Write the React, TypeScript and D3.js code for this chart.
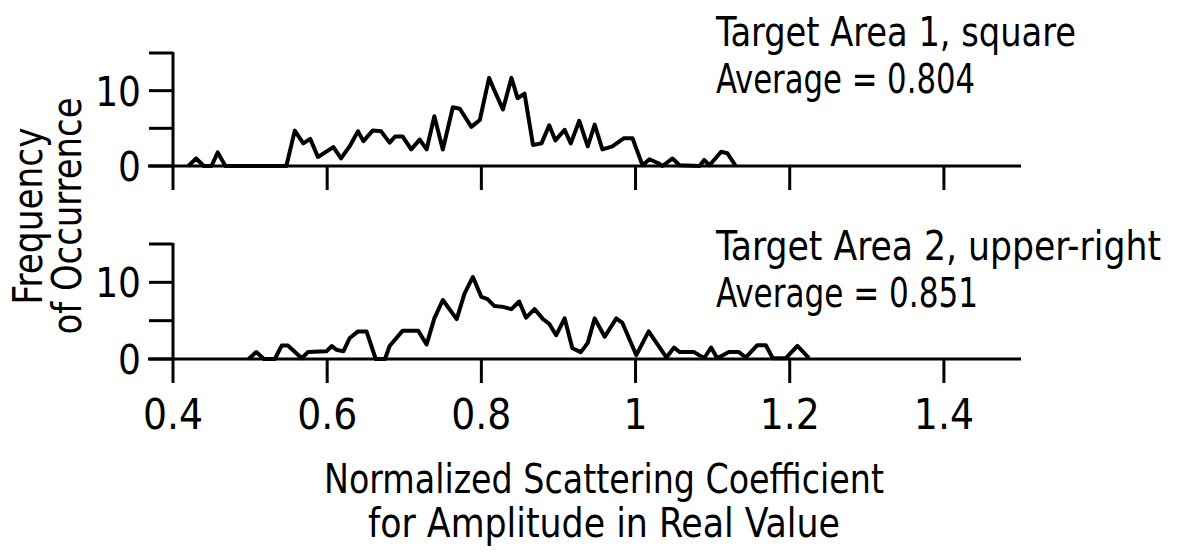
import * as d3 from 'd3'
import React from 'react'

// values
const topX = [0.42, 0.43, 0.44, 0.45, 0.458, 0.468, 0.547, 0.558, 0.569, 0.578, 0.588, 0.608, 0.618, 0.629, 0.64, 0.647, 0.659, 0.67, 0.681, 0.688, 0.698, 0.709, 0.72, 0.729, 0.739, 0.75, 0.763, 0.772, 0.787, 0.798, 0.81, 0.817, 0.828, 0.839, 0.847, 0.856, 0.867, 0.878, 0.888, 0.896, 0.908, 0.916, 0.927, 0.938, 0.947, 0.957, 0.97, 0.985, 0.996, 1.009, 1.018, 1.029, 1.035, 1.048, 1.057, 1.083, 1.089, 1.096, 1.111, 1.119, 1.13]
const topY = [0, 1.0, 0, 0, 1.8, 0, 0, 4.7, 3.0, 3.6, 1.2, 2.5, 1.0, 2.6, 4.6, 3.3, 4.7, 4.6, 3.1, 3.9, 3.9, 2.2, 3.5, 2.2, 6.6, 2.2, 7.8, 7.6, 5.2, 6.1, 11.7, 10.0, 7.5, 11.7, 9.0, 9.6, 2.8, 3.0, 5.4, 3.4, 4.8, 3.0, 6.0, 2.6, 5.5, 2.2, 2.6, 3.7, 3.7, 0.1, 0.9, 0.4, 0, 1.0, 0.1, 0, 0.8, 0.1, 1.9, 1.7, 0]

const bottomX = [0.498, 0.508, 0.518, 0.532, 0.541, 0.549, 0.567, 0.575, 0.599, 0.606, 0.612, 0.621, 0.629, 0.64, 0.651, 0.663, 0.675, 0.681, 0.698, 0.718, 0.729, 0.739, 0.75, 0.768, 0.778, 0.789, 0.8, 0.808, 0.817, 0.828, 0.839, 0.849, 0.858, 0.869, 0.88, 0.888, 0.897, 0.908, 0.918, 0.929, 0.938, 0.947, 0.96, 0.975, 0.983, 1.001, 1.017, 1.04, 1.05, 1.057, 1.076, 1.089, 1.098, 1.106, 1.121, 1.134, 1.143, 1.158, 1.169, 1.178, 1.195, 1.21, 1.225]
const bottomY = [0, 0.9, 0, 0, 1.75, 1.75, 0.1, 0.9, 1.0, 1.7, 1.2, 1.0, 2.7, 3.6, 3.6, 0, 0, 1.7, 3.7, 3.7, 1.9, 5.3, 7.7, 5.2, 8.5, 10.7, 8.1, 7.8, 6.9, 6.8, 6.5, 7.5, 5.4, 6.5, 5.2, 4.6, 3.1, 5.3, 1.4, 0.9, 2.1, 5.3, 2.9, 5.3, 4.7, 0.5, 3.6, 0.2, 1.5, 0.9, 0.9, 0.1, 1.5, 0.1, 0.9, 0.9, 0.2, 1.8, 1.8, 0.1, 0.1, 1.7, 0.1]

const xTicks = [0.4, 0.6, 0.8, 1.0, 1.2, 1.4]
const xTickLabels = ['0.4', '0.6', '0.8', '1', '1.2', '1.4']
const yTicks = [0, 5, 10, 15]
const yTickLabels = ['0', '', '10', '']

const annotations = [
  ['Target Area 1, square', 'Average = 0.804'],
  ['Target Area 2, upper-right', 'Average = 0.851'],
]
const xTitle = ['Normalized Scattering Coefficient', 'for Amplitude in Real Value']
const yTitle = ['Frequency', 'of Occurrence']

const W = 1189
const H = 552
const FONT = '"DejaVu Sans Condensed", "DejaVu Sans", sans-serif'

const x = d3.scaleLinear().domain([0.4, 1.5]).range([173, 1021])

const panels = [
  { xs: topX, ys: topY, y: d3.scaleLinear().domain([0, 15]).range([166, 53]), note: annotations[0], noteY: 46, noteW: [360, 259] },
  { xs: bottomX, ys: bottomY, y: d3.scaleLinear().domain([0, 15]).range([359, 244]), note: annotations[1], noteY: 260, noteW: [445, 262] },
]

const Panel = ({ p }: { p: (typeof panels)[number] }) => {
  const y0 = p.y(0)
  const pts = p.xs.map((v, i) => [v, p.ys[i]] as [number, number])
  const line = d3
    .line<[number, number]>()
    .x((d) => x(d[0]))
    .y((d) => p.y(d[1]))
  return (
    <g>
      {/* baseline + y axis */}
      <line x1={x(0.4) - 25} x2={x(1.5)} y1={y0} y2={y0} stroke="#000" strokeWidth={3} />
      <line x1={x(0.4)} x2={x(0.4)} y1={p.y(15) - 1} y2={y0 + 24} stroke="#000" strokeWidth={3} />
      {yTicks.map((t, i) => (
        <g key={t}>
          <line x1={x(0.4) - 24} x2={x(0.4)} y1={p.y(t)} y2={p.y(t)} stroke="#000" strokeWidth={3} />
          {yTickLabels[i] && (
            <text x={x(0.4) - 32} y={p.y(t) + 15} textAnchor="end" fontSize={40} fontFamily={FONT} fontStretch="condensed">
              {yTickLabels[i]}
            </text>
          )}
        </g>
      ))}
      {xTicks.slice(1).map((t) => (
        <line key={t} x1={x(t)} x2={x(t)} y1={y0} y2={y0 + 24} stroke="#000" strokeWidth={3} />
      ))}
      <path d={line(pts) ?? ''} fill="none" stroke="#000" strokeWidth={4} strokeLinejoin="round" />
      {p.note.map((s, i) => (
        <text
          key={s}
          x={716}
          y={p.noteY + i * 47}
          fontSize={40}
          fontFamily={FONT}
          fontStretch="condensed"
          textLength={p.noteW[i]}
          lengthAdjust="spacingAndGlyphs"
        >
          {s}
        </text>
      ))}
    </g>
  )
}

export default function App() {
  return (
    <svg width={W} height={H} style={{ position: 'absolute', left: 0, top: 0, background: '#fff' }}>
      <rect width={W} height={H} fill="#fff" />
      {panels.map((p, i) => (
        <Panel key={i} p={p} />
      ))}
      {xTicks.map((t, i) => (
        <text key={t} x={x(t)} y={429} textAnchor="middle" fontSize={42} fontFamily={FONT} fontStretch="condensed">
          {xTickLabels[i]}
        </text>
      ))}
      {xTitle.map((s, i) => (
        <text
          key={s}
          x={604}
          y={493 + i * 44}
          textAnchor="middle"
          fontSize={40}
          fontFamily={FONT}
          fontStretch="condensed"
          textLength={i === 0 ? 560 : 472}
          lengthAdjust="spacingAndGlyphs"
        >
          {s}
        </text>
      ))}
      {yTitle.map((s, i) => (
        <text
          key={s}
          transform={`translate(${42 + i * 39},216) rotate(-90)`}
          textAnchor="middle"
          fontSize={40}
          fontFamily={FONT}
          fontStretch="condensed"
          textLength={i === 0 ? 177 : 237}
          lengthAdjust="spacingAndGlyphs"
        >
          {s}
        </text>
      ))}
    </svg>
  )
}
